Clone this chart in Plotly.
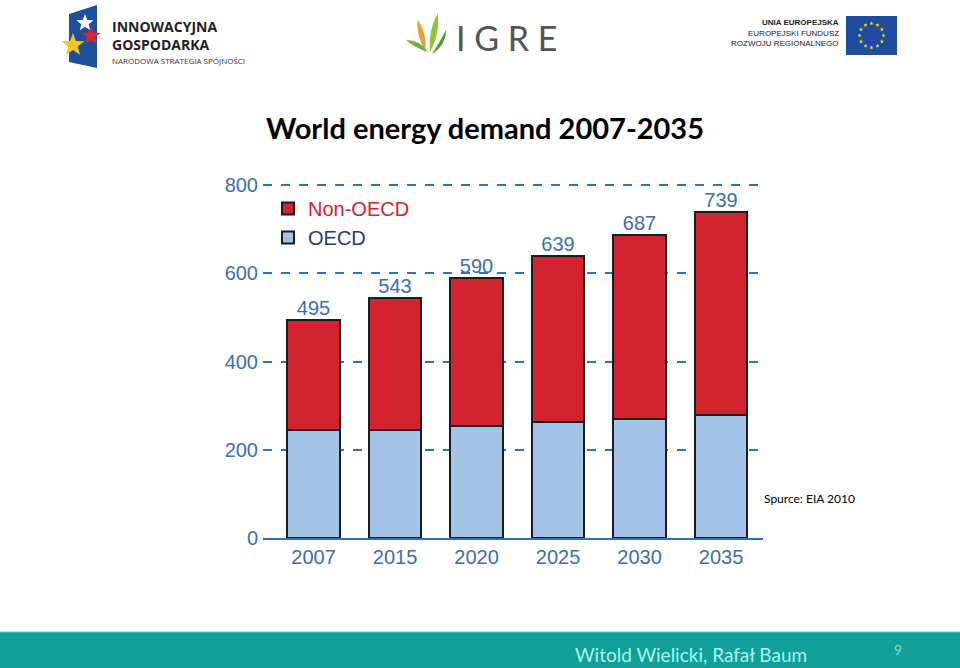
import plotly.graph_objects as go
import math

# ---- data ----
years = ["2007", "2015", "2020", "2025", "2030", "2035"]
oecd = [245, 245, 254, 263, 270, 279]
non_oecd = [250, 298, 336, 376, 417, 460]
totals = [o + n for o, n in zip(oecd, non_oecd)]
y_ticks = [0, 200, 400, 600, 800]

W, H = 960, 668
def px(x): return x / W
def py(y): return 1 - y / H

RED = "#d2232f"
BLUE = "#a3c4e6"
EDGE = "#1c1c24"
AX = "#2f72b8"
TXT = "#3e6db0"
CHART_FONT = "Liberation Sans, Arial, sans-serif"

fig = go.Figure()
fig.add_trace(go.Bar(
    x=years, y=oecd, name="<span style='color:#2b3580'>OECD</span>",
    marker=dict(color=BLUE, line=dict(color=EDGE, width=2)),
))
fig.add_trace(go.Bar(
    x=years, y=non_oecd, name="<span style='color:#d2232f'>Non-OECD</span>",
    marker=dict(color=RED, line=dict(color=EDGE, width=2)),
))
fig.add_trace(go.Scatter(
    x=years, y=totals, text=[str(t) for t in totals], mode="text",
    textposition="top center", showlegend=False, cliponaxis=False,
    textfont=dict(size=20, color=TXT, family=CHART_FONT),
))

# y scale: 0 at pixel 538, 800 at pixel 185
y_top_val = 806
y_top_px = 538 - y_top_val * (538 - 185) / 800

fig.update_layout(
    width=W, height=H,
    margin=dict(l=0, r=0, t=0, b=0, pad=0, autoexpand=False),
    paper_bgcolor="white", plot_bgcolor="white",
    barmode="stack", bargap=0.36,
    showlegend=True,
    legend=dict(x=px(268), y=py(189), xanchor="left", yanchor="top",
                traceorder="reversed", bgcolor="rgba(0,0,0,0)",
                font=dict(size=20, family=CHART_FONT),
                tracegroupgap=2),
    xaxis=dict(domain=[px(263), px(763)], range=[-0.62, 5.515],
               showgrid=False, showline=True, linecolor=AX, linewidth=2,
               ticks="", ticklabelstandoff=0, automargin=False,
               tickfont=dict(size=20, color=TXT, family=CHART_FONT)),
    yaxis=dict(domain=[py(538), py(y_top_px)], range=[0, y_top_val],
               tickvals=y_ticks, showgrid=True, gridcolor=AX, gridwidth=1.6,
               griddash="dash", zeroline=False, showline=False, ticks="",
               ticklabelstandoff=4, automargin=False,
               tickfont=dict(size=20, color=TXT, family=CHART_FONT)),
)

annotations = []
shapes = []

def star_path(cx, cy, R, rot=-90):
    pts = []
    for i in range(10):
        rr = R if i % 2 == 0 else R * 0.42
        a = math.radians(rot + i * 36)
        pts.append((px(cx + rr * math.cos(a)), py(cy + rr * math.sin(a))))
    return "M " + " L ".join(f"{x},{y}" for x, y in pts) + " Z"

# Title
annotations.append(dict(x=px(485), y=py(128), xref="paper", yref="paper",
    text="<b>World energy demand 2007-2035</b>", showarrow=False,
    xanchor="center", yanchor="middle",
    font=dict(size=29, color="black", family="Lato, Carlito, sans-serif")))

# Source
annotations.append(dict(x=px(762), y=py(498), xref="paper", yref="paper",
    text="Spurce: EIA 2010", showarrow=False, xanchor="left", yanchor="middle",
    font=dict(size=12, color="black", family="Lato, sans-serif")))

# Footer bar
shapes.append(dict(type="rect", xref="paper", yref="paper",
    x0=0, x1=1, y0=0, y1=py(632), fillcolor="#0fa198", line=dict(width=0), layer="below"))
shapes.append(dict(type="line", xref="paper", yref="paper",
    x0=0, x1=1, y0=py(632), y1=py(632), line=dict(color="#6cc9c2", width=1)))
annotations.append(dict(x=px(573), y=py(654), xref="paper", yref="paper",
    text="Witold Wielicki, Rafał Baum", showarrow=False, xanchor="left", yanchor="middle",
    font=dict(size=19, color="#a8f4ef", family="Lato, sans-serif")))
annotations.append(dict(x=px(898), y=py(649), xref="paper", yref="paper",
    text="9", showarrow=False, xanchor="center", yanchor="middle",
    font=dict(size=14, color="#7fd6cf", family="Lato, sans-serif")))

# ---- Logo 1: Innowacyjna Gospodarka ----
shapes.append(dict(type="path", xref="paper", yref="paper",
    path=f"M {px(69)},{py(14)} L {px(97)},{py(5)} L {px(97)},{py(68)} L {px(69)},{py(62)} Z",
    fillcolor="#1e4f9c", line=dict(width=0)))
for (sx, sy, col, R) in [(85, 23, "white", 9), (91, 36, "#d8252f", 10), (73, 45, "#f6c51b", 12)]:
    shapes.append(dict(type="path", xref="paper", yref="paper", path=star_path(sx, sy, R),
                       fillcolor=col, line=dict(width=0)))
annotations.append(dict(x=px(110), y=py(35.5), xref="paper", yref="paper",
    text="<b>INNOWACYJNA</b><br><b>GOSPODARKA</b>", showarrow=False,
    xanchor="left", yanchor="middle", align="left",
    font=dict(size=14, color="#232323", family="Open Sans, sans-serif")))
annotations.append(dict(x=px(110), y=py(60), xref="paper", yref="paper",
    text="NARODOWA STRATEGIA SPÓJNOŚCI", showarrow=False, xanchor="left", yanchor="middle",
    font=dict(size=8, color="#333333", family="Open Sans, sans-serif")))

# ---- Logo 2: IGRE ----
leaves = [
    (f"M {px(425)},{py(52)} Q {px(415)},{py(30)} {px(418)},{py(20)} Q {px(428)},{py(35)} {px(425)},{py(52)} Z", "#e8a23c"),
    (f"M {px(430)},{py(52)} Q {px(428)},{py(30)} {px(438)},{py(13)} Q {px(440)},{py(35)} {px(430)},{py(52)} Z", "#8cc63f"),
    (f"M {px(428)},{py(52)} Q {px(415)},{py(48)} {px(406)},{py(40)} Q {px(420)},{py(40)} {px(428)},{py(52)} Z", "#6db33f"),
    (f"M {px(432)},{py(54)} Q {px(440)},{py(42)} {px(446)},{py(30)} Q {px(446)},{py(45)} {px(432)},{py(54)} Z", "#4e9a2f"),
]
for path, col in leaves:
    shapes.append(dict(type="path", xref="paper", yref="paper", path=path,
                       fillcolor=col, line=dict(width=0)))
annotations.append(dict(x=px(506), y=py(38), xref="paper", yref="paper",
    text="I G R E", showarrow=False, xanchor="center", yanchor="middle",
    font=dict(size=34, color="#555555", family="Lato, sans-serif")))

# ---- Logo 3: EU ----
for txt, yy, bold in [("UNIA EUROPEJSKA", 23, True), ("EUROPEJSKI FUNDUSZ", 33, False),
                      ("ROZWOJU REGIONALNEGO", 44, False)]:
    annotations.append(dict(x=px(841), y=py(yy), xref="paper", yref="paper",
        text=f"<b>{txt}</b>" if bold else txt, showarrow=False, xanchor="right", yanchor="middle",
        font=dict(size=8, color="#222222", family="Liberation Sans Narrow, Liberation Sans, sans-serif")))
shapes.append(dict(type="rect", xref="paper", yref="paper",
    x0=px(846), x1=px(897), y0=py(55), y1=py(16), fillcolor="#1f4c9e", line=dict(width=0)))
cx, cy, r = 871.5, 35.5, 12
for k in range(12):
    a = 2 * math.pi * k / 12
    shapes.append(dict(type="path", xref="paper", yref="paper",
        path=star_path(cx + r * math.cos(a), cy + r * math.sin(a), 2.2),
        fillcolor="#ffdd00", line=dict(width=0)))

fig.update_layout(annotations=annotations, shapes=shapes)
fig.write_html("out.html")
